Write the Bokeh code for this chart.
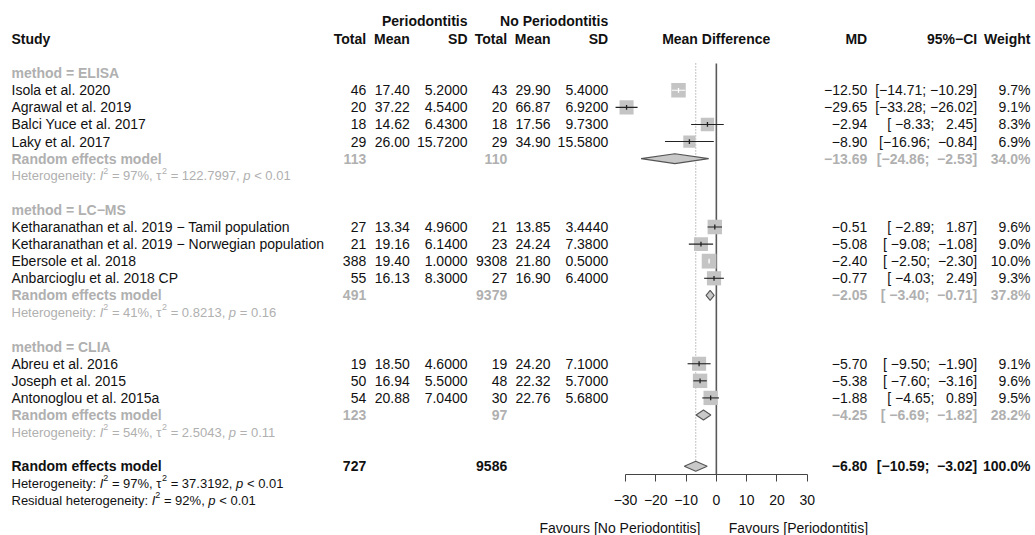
import math
from bokeh.plotting import figure
from bokeh.models import Range1d, LinearAxis, FixedTicker
from bokeh.core.properties import value
from bokeh.embed import file_html
from bokeh.resources import INLINE

# ---------------- data ----------------
groups = ["ELISA", "LC\u2212MS", "CLIA"]
studies = [
    "Isola et al. 2020", "Agrawal et al. 2019", "Balci Yuce et al. 2017", "Laky et al. 2017",
    "Ketharanathan et al. 2019 \u2212 Tamil population",
    "Ketharanathan et al. 2019 \u2212 Norwegian population",
    "Ebersole et al. 2018", "Anbarcioglu et al. 2018 CP",
    "Abreu et al. 2016", "Joseph et al. 2015", "Antonoglou et al. 2015a",
]
study_group = [0, 0, 0, 0, 1, 1, 1, 1, 2, 2, 2]
n_perio = [46, 20, 18, 29, 27, 21, 388, 55, 19, 50, 54]
mean_perio = [17.40, 37.22, 14.62, 26.00, 13.34, 19.16, 19.40, 16.13, 18.50, 16.94, 20.88]
sd_perio = [5.2000, 4.5400, 6.4300, 15.7200, 4.9600, 6.1400, 1.0000, 8.3000, 4.6000, 5.5000, 7.0400]
n_ctrl = [43, 20, 18, 29, 21, 23, 9308, 27, 19, 48, 30]
mean_ctrl = [29.90, 66.87, 17.56, 34.90, 13.85, 24.24, 21.80, 16.90, 24.20, 22.32, 22.76]
sd_ctrl = [5.4000, 6.9200, 9.7300, 15.5800, 3.4440, 7.3800, 0.5000, 6.4000, 7.1000, 5.7000, 5.6800]
md = [-12.50, -29.65, -2.94, -8.90, -0.51, -5.08, -2.40, -0.77, -5.70, -5.38, -1.88]
ci_low = [-14.71, -33.28, -8.33, -16.96, -2.89, -9.08, -2.50, -4.03, -9.50, -7.60, -4.65]
ci_high = [-10.29, -26.02, 2.45, -0.84, 1.87, -1.08, -2.30, 2.49, -1.90, -3.16, 0.89]
weight = [9.7, 9.1, 8.3, 6.9, 9.6, 9.0, 10.0, 9.3, 9.1, 9.6, 9.5]

sub_n_perio = [113, 491, 123]
sub_n_ctrl = [110, 9379, 97]
sub_md = [-13.69, -2.05, -4.25]
sub_low = [-24.86, -3.40, -6.69]
sub_high = [-2.53, -0.71, -1.82]
sub_weight = [34.0, 37.8, 28.2]
sub_i2 = [97, 41, 54]
sub_tau2 = ["122.7997", "0.8213", "2.5043"]
sub_p = ["< 0.01", "= 0.16", "= 0.11"]

tot_n_perio = 727
tot_n_ctrl = 9586
tot_md = -6.80
tot_low = -10.59
tot_high = -3.02
tot_weight = 100.0
tot_i2 = 97
tot_tau2 = "37.3192"
tot_p = "< 0.01"
resid_i2 = 92
resid_p = "< 0.01"

axis_ticks = [-30, -20, -10, 0, 10, 20, 30]

# ---------------- layout / style ----------------
W, H = 1035, 535
Y_TOP, Y_BOTTOM = -4.254, 27.05
MD_START, MD_END = -236.39, 105.39
PXU = W / (MD_END - MD_START)
X_STUDY = 11
X_NP, X_MP, X_SP = 365.7, 409.3, 467.0
X_NC, X_MC, X_SC = 506.7, 550.0, 607.7
X_MDH = 715.7
X_MD, X_CI, X_W = 866.7, 976.7, 1030.0
AXIS_ROW = 23.48
LINE_TOP = -0.57
FAV_ROW = 26.64
FONT = value("Liberation Sans")
BLACK = "#111111"
GRAY = "#B0B0B0"
SQ_COL = "#C4C4C4"

MINUS = "\u2212"
NB = "\u00a0"


def fnum(v, d):
    return f"{v:.{d}f}".replace("-", MINUS)


def fci(lo, hi):
    a, b = fnum(lo, 2), fnum(hi, 2)
    a = NB * (6 - len(a)) + a
    b = NB * (6 - len(b)) + b
    return "[" + a + ";" + NB + b + "]"


AW = {" ": 278, NB: 278, "%": 889, ",": 278, ".": 278, ":": 278, ";": 278, "<": 584, "=": 584,
      "H": 722, "R": 722, "I": 278, "a": 556, "d": 556, "e": 556, "g": 556, "h": 556, "i": 222,
      "l": 222, "n": 556, "o": 556, "p": 556, "r": 333, "s": 500, "t": 278, "u": 556, "y": 500,
      "\u03c4": 440}
for _c in "0123456789":
    AW[_c] = 556


def twidth(s, size):
    return sum(AW.get(ch, 556) for ch in s) * size / 1000.0


p = figure(width=W, height=H, output_backend="svg", toolbar_location=None,
           x_range=Range1d(0, W), y_range=Range1d(Y_BOTTOM, Y_TOP),
           x_axis_location=None, y_axis_location=None, min_border=0,
           outline_line_color=None, background_fill_color="white", border_fill_color="white")
p.extra_x_ranges = {"md": Range1d(MD_START, MD_END)}
p.grid.visible = False


def txt(xs, ys, texts, align, color=BLACK, style="normal", size="14px"):
    p.text(x=xs, y=ys, text=texts, text_align=align, text_baseline="middle",
           text_font=FONT, text_font_size=value(size), text_color=color,
           text_font_style=style)


def het_line(x0, y, segments, color):
    cursor = x0
    for seg, kind in segments:
        size = 9.0 if kind == "sup" else 13.0
        lead = len(seg) - len(seg.lstrip(" "))
        core = seg.strip(" ")
        x = cursor + twidth(" " * lead, size)
        yy = y - 0.3 if kind == "sup" else y
        style = "italic" if kind == "it" else "normal"
        txt([x], [yy], [core], "left", color=color, style=style, size=f"{size}px")
        cursor += twidth(seg, size)


# ---------------- rows ----------------
row = 0
study_rows = [None] * len(studies)
label_rows, sub_rows, het_rows = [], [], []
for g in range(len(groups)):
    label_rows.append(row)
    row += 1
    for i, gi in enumerate(study_group):
        if gi == g:
            study_rows[i] = row
            row += 1
    sub_rows.append(row)
    row += 1
    het_rows.append(row)
    row += 2
overall_row = row
overall_het_row = row + 1
resid_row = row + 2

# ---------------- header ----------------
txt([X_SP, X_SC], [-3.05, -3.05], ["Periodontitis", "No Periodontitis"], "right", style="bold")
txt([X_STUDY], [-2.02], ["Study"], "left", style="bold")
txt([X_NP, X_MP, X_SP, X_NC, X_MC, X_SC, X_MD, X_CI, X_W], [-2.02] * 9,
    ["Total", "Mean", "SD", "Total", "Mean", "SD", "MD", "95%\u2212CI", "Weight"], "right", style="bold")
txt([X_MDH], [-2.02], ["Mean Difference"], "center", style="bold")

# ---------------- study text ----------------
txt([X_STUDY] * len(studies), study_rows, studies, "left")
cols = [
    (X_NP, [str(v) for v in n_perio]),
    (X_MP, [fnum(v, 2) for v in mean_perio]),
    (X_SP, [fnum(v, 4) for v in sd_perio]),
    (X_NC, [str(v) for v in n_ctrl]),
    (X_MC, [fnum(v, 2) for v in mean_ctrl]),
    (X_SC, [fnum(v, 4) for v in sd_ctrl]),
    (X_MD, [fnum(v, 2) for v in md]),
    (X_CI, [fci(a, b) for a, b in zip(ci_low, ci_high)]),
    (X_W, [fnum(v, 1) + "%" for v in weight]),
]
for xc, texts in cols:
    txt([xc] * len(texts), study_rows, texts, "right")

# ---------------- subgroups ----------------
txt([X_STUDY] * 3, label_rows, ["method = " + g for g in groups], "left", color=GRAY, style="bold")
txt([X_STUDY] * 3, sub_rows, ["Random effects model"] * 3, "left", color=GRAY, style="bold")
txt([X_NP] * 3, sub_rows, [str(v) for v in sub_n_perio], "right", color=GRAY, style="bold")
txt([X_NC] * 3, sub_rows, [str(v) for v in sub_n_ctrl], "right", color=GRAY, style="bold")
txt([X_MD] * 3, sub_rows, [fnum(v, 2) for v in sub_md], "right", color=GRAY, style="bold")
txt([X_CI] * 3, sub_rows, [fci(a, b) for a, b in zip(sub_low, sub_high)], "right", color=GRAY, style="bold")
txt([X_W] * 3, sub_rows, [fnum(v, 1) + "%" for v in sub_weight], "right", color=GRAY, style="bold")
for k in range(3):
    het_line(X_STUDY, het_rows[k], [
        ("Heterogeneity: ", "n"), ("I", "it"), ("2", "sup"),
        (f" = {sub_i2[k]}%, \u03c4", "n"), ("2", "sup"), (f" = {sub_tau2[k]}, ", "n"),
        ("p", "it"), (f" {sub_p[k]}", "n")], GRAY)

# ---------------- overall ----------------
txt([X_STUDY], [overall_row], ["Random effects model"], "left", style="bold")
txt([X_NP, X_NC, X_MD, X_CI, X_W], [overall_row] * 5,
    [str(tot_n_perio), str(tot_n_ctrl), fnum(tot_md, 2), fci(tot_low, tot_high), fnum(tot_weight, 1) + "%"],
    "right", style="bold")
het_line(X_STUDY, overall_het_row, [
    ("Heterogeneity: ", "n"), ("I", "it"), ("2", "sup"),
    (f" = {tot_i2}%, \u03c4", "n"), ("2", "sup"), (f" = {tot_tau2}, ", "n"),
    ("p", "it"), (f" {tot_p}", "n")], BLACK)
het_line(X_STUDY, resid_row, [
    ("Residual heterogeneity: ", "n"), ("I", "it"), ("2", "sup"),
    (f" = {resid_i2}%, ", "n"), ("p", "it"), (f" {resid_p}", "n")], BLACK)

# ---------------- forest ----------------
p.segment(x0=[0], x1=[0], y0=[LINE_TOP], y1=[AXIS_ROW], x_range_name="md",
          line_color="#5A5A5A", line_width=1.6)
p.segment(x0=[tot_md], x1=[tot_md], y0=[LINE_TOP], y1=[overall_row - 0.29], x_range_name="md",
          line_color="#888888", line_width=1, line_dash="1 2")

sizes = [4.65 * math.sqrt(w) for w in weight]
ci_cols = []
for lo, hi, sz in zip(ci_low, ci_high, sizes):
    ci_cols.append("white" if sz - (hi - lo) * PXU > 1.0 else "#222222")
p.scatter(x=md, y=study_rows, size=sizes, marker="square", x_range_name="md",
          fill_color=SQ_COL, line_color=None)
p.segment(x0=ci_low, x1=ci_high, y0=study_rows, y1=study_rows, x_range_name="md",
          line_color=ci_cols, line_width=1.1)
p.segment(x0=md, x1=md, y0=[r - 0.14 for r in study_rows], y1=[r + 0.14 for r in study_rows],
          x_range_name="md", line_color=ci_cols, line_width=1.3)

dh = 0.29
d_xs = [[lo, m, hi, m] for lo, m, hi in zip(sub_low + [tot_low], sub_md + [tot_md], sub_high + [tot_high])]
d_ys = [[r, r - dh, r, r + dh] for r in sub_rows + [overall_row]]
p.patches(xs=d_xs, ys=d_ys, x_range_name="md", fill_color="#C8C8C8",
          line_color="#555555", line_width=1.1)

ax = LinearAxis(x_range_name="md", fixed_location=AXIS_ROW, bounds=(-30, 30),
                ticker=FixedTicker(ticks=axis_ticks))
ax.axis_line_color = "#444444"
ax.axis_line_width = 1
ax.major_tick_line_color = "#444444"
ax.major_tick_in = 0
ax.major_tick_out = 7
ax.minor_tick_line_color = None
ax.major_label_standoff = 14
ax.major_label_text_font = "Liberation Sans"
ax.major_label_text_font_size = "14px"
ax.major_label_text_color = BLACK
ax.major_label_overrides = {t: fnum(t, 0) for t in axis_ticks}
p.add_layout(ax, "below")

txt([700.0], [FAV_ROW], ["Favours [No Periodontitis]"], "right")
txt([728.3], [FAV_ROW], ["Favours [Periodontitis]"], "left")

open("out.html", "w").write(file_html(p, INLINE))
